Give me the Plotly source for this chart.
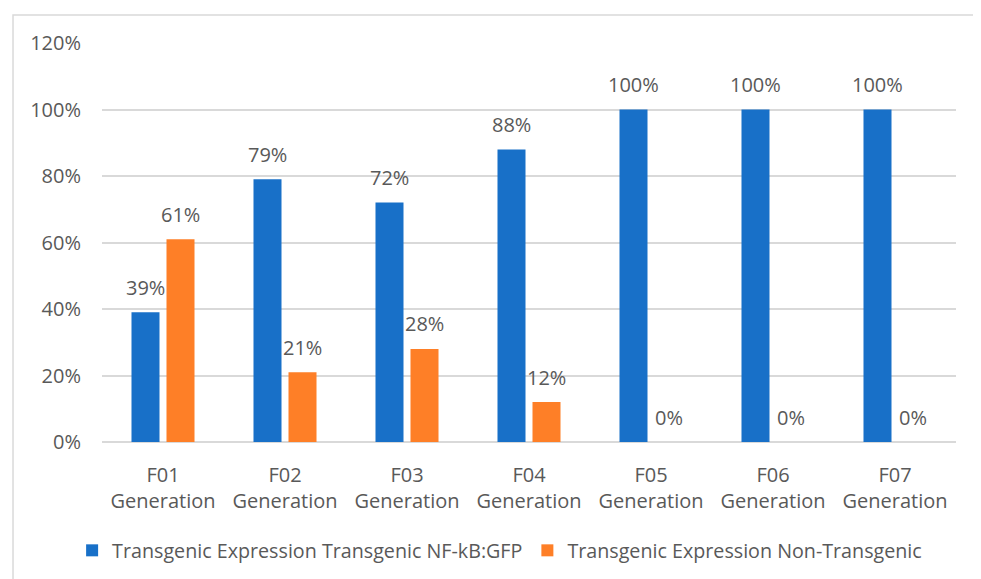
import plotly.graph_objects as go

categories = ["F01<br>Generation", "F02<br>Generation", "F03<br>Generation", "F04<br>Generation",
              "F05<br>Generation", "F06<br>Generation", "F07<br>Generation"]
series_names = ["Transgenic Expression Transgenic NF-kB:GFP", "Transgenic Expression Non-Transgenic"]
transgenic = [0.39, 0.79, 0.72, 0.88, 1.00, 1.00, 1.00]
non_transgenic = [0.61, 0.21, 0.28, 0.12, 0.00, 0.00, 0.00]
y_ticks = [0, 0.2, 0.4, 0.6, 0.8, 1.0, 1.2]

BLUE = "#1870C8"
ORANGE = "#FE7F27"
TXT = "#595959"
FONT = "Open Sans"
FS = 20

fig = go.Figure()
fig.add_trace(go.Bar(name=series_names[0], x=categories, y=transgenic, marker_color=BLUE,
                     marker_line_width=0))
fig.add_trace(go.Bar(name=series_names[1], x=categories, y=non_transgenic, marker_color=ORANGE,
                     marker_line_width=0))

annotations = []
for vals, shift in ((transgenic, -17.5), (non_transgenic, 17.5)):
    for c, v in zip(categories, vals):
        annotations.append(dict(x=c, y=v, xref="x", yref="y", text=f"{v:.0%}", showarrow=False,
                                xshift=shift, yshift=25, yanchor="middle",
                                font=dict(family=FONT, size=FS, color=TXT)))

fig.update_layout(
    width=973, height=571,
    margin=dict(l=94, r=25, t=35, b=137, autoexpand=False),
    paper_bgcolor="white", plot_bgcolor="white",
    barmode="group", bargap=0.426, bargroupgap=0.2,
    font=dict(family=FONT, size=FS, color=TXT),
    showlegend=True,
    legend=dict(orientation="h", xref="paper", yref="paper", x=-0.035, xanchor="left",
                y=-0.272, yanchor="middle", font=dict(family=FONT, size=19.7, color=TXT),
                traceorder="normal"),
    annotations=annotations,
    shapes=[dict(type="rect", xref="paper", yref="paper", x0=-0.1042, x1=1.05, y0=-0.5, y1=1.0702,
                 line=dict(color="#d9d9d9", width=1.5), fillcolor="rgba(0,0,0,0)", layer="below")],
)
fig.update_yaxes(range=[0, 1.2], tickvals=y_ticks, tickformat=".0%", showgrid=True,
                 gridcolor="#d9d9d9", gridwidth=1.5, zeroline=True, zerolinecolor="#d9d9d9",
                 zerolinewidth=1.5, showline=False, ticks="", ticklabelstandoff=20,
                 tickfont=dict(family=FONT, size=FS, color=TXT))
fig.update_xaxes(showgrid=False, showline=False, ticks="", ticklabelstandoff=19,
                 tickfont=dict(family=FONT, size=FS, color=TXT))

fig.write_html("out.html")
